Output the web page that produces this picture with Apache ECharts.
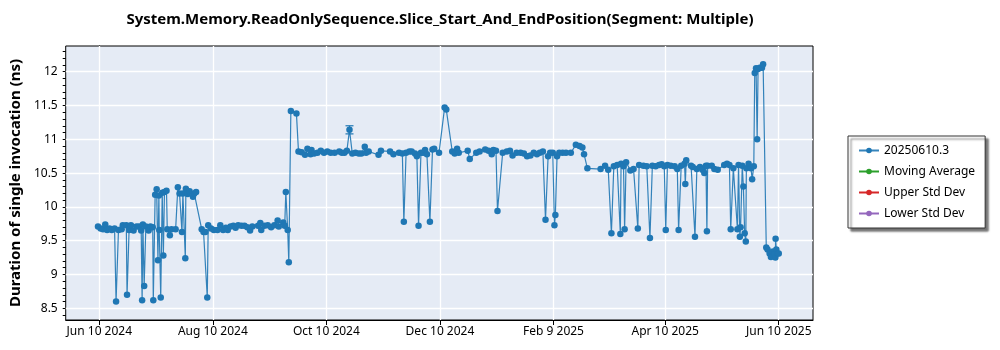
<!DOCTYPE html>
<html>
<head>
<meta charset="utf-8">
<script src="https://cdn.jsdelivr.net/npm/echarts@6/dist/echarts.min.js"></script>
<style>
  html, body { margin: 0; padding: 0; background: #fff; }
  #chart { width: 1000px; height: 350px; }
</style>
</head>
<body>
<div id="chart"></div>
<script>
// x = days since Jun 10 2024, y = duration in ns
const DAYS = [
  -0.7, 0.7, 2, 3.2, 4.2, 5.5, 6.7, 8.2, 9, 10.3, 12, 12.6, 14.5, 14.9, 16, 17, 18.4, 20, 21.4, 22.5,
  23.0, 23.4, 24.1, 25, 26.5, 27.5, 28.7, 29, 30, 30.8, 31.5, 32, 32.2, 33, 33.8, 34.4, 35, 36.1, 36.5, 37.9,
  38.8, 41, 42.2, 43.1, 44.4, 44.9, 46.2, 46.5, 47.5, 48.5, 50.3, 51, 52, 55, 56, 57, 58, 58.5, 60, 61.5,
  63.5, 65, 66.5, 68, 69, 70.5, 72, 73.2, 74.6, 76.4, 78, 79.5, 81, 82.2, 85.3, 86.5, 87, 88.7, 90.5, 92.3,
  94, 95.8, 96.4, 98.8, 99.6, 100.2, 101.2, 101.8, 102.9, 105.9, 107, 108.7, 110.5, 111.8, 113.5, 114, 115.4, 117.2, 119, 120.7,
  122.5, 124.3, 126.4, 128.9, 130.3, 131.7, 133, 134.4, 135.9, 137.6, 139.4, 140.8, 142.6, 143.3, 144.7, 150, 151.3, 156.2, 158, 161,
  162.8, 163.6, 164.8, 166.6, 167.8, 169.6, 170.6, 171.5, 172.8, 174, 175, 176, 177.6, 179, 179.9, 182.5, 185.5, 186.4, 189.6, 190.9,
  192.2, 193.1, 197.9, 199, 202.5, 204.3, 207.3, 209.1, 210.8, 211.7, 213.1, 213.9, 216.7, 218.9, 220.6, 222, 224.2, 226.3, 228.1, 229.8,
  231.6, 233.4, 235.1, 236.6, 238.3, 239.7, 241.1, 242.2, 243.6, 244.5, 245, 245.9, 247.1, 248.9, 250.7, 253.3, 256, 258, 259.5, 260.4,
  262.2, 269.3, 271.7, 273.4, 275.1, 276.4, 278.2, 279.9, 280.3, 281.6, 282.2, 283, 285.3, 287, 289.3, 290, 292.3, 294.1, 295.8, 297.1,
  298.9, 300.7, 302.1, 303.5, 304.3, 305.2, 307, 309.1, 310.5, 311.2, 312.6, 314.4, 314.8, 315.3, 317.9, 318.8, 320, 321, 322.7, 324,
  325, 325.9, 326.4, 326.8, 329, 330.4, 332.2, 335.7, 337.2, 338.5, 339.2, 340.6, 342.8, 343.4, 344.1, 344.5, 345.4, 346, 346.7, 347.3,
  347.6, 348.8, 350.1, 350.7, 351.6, 352.1, 352.8, 353.4, 353.9, 354.8, 356, 356.6, 358.3, 359, 360.1, 360.8, 361.9, 362.6, 363.2, 363.3,
  363.7, 364.4, 365
];
const VALUES = [
  9.71, 9.68, 9.67, 9.74, 9.66, 9.68, 9.66, 9.68, 8.6, 9.66, 9.67, 9.73, 9.73, 8.70, 9.66, 9.73, 9.65, 9.71, 9.71, 9.65,
  8.62, 9.74, 8.83, 9.71, 9.65, 9.71, 9.70, 8.62, 10.18, 10.26, 9.21, 10.17, 9.66, 8.66, 10.21, 9.28, 10.22, 10.24, 9.67, 9.58,
  9.67, 9.67, 10.29, 10.20, 9.63, 10.20, 9.24, 10.27, 10.19, 10.23, 10.15, 10.20, 10.22, 9.67, 9.63, 9.63, 8.66, 9.73, 9.68, 9.66,
  9.66, 9.73, 9.66, 9.69, 9.66, 9.71, 9.72, 9.69, 9.73, 9.72, 9.72, 9.70, 9.65, 9.71, 9.72, 9.76, 9.66, 9.72, 9.73, 9.70,
  9.73, 9.80, 9.71, 9.77, 9.72, 10.22, 9.66, 9.18, 11.42, 11.38, 10.82, 10.81, 10.77, 10.86, 10.78, 10.84, 10.79, 10.80, 10.83, 10.80,
  10.82, 10.80, 10.80, 10.82, 10.80, 10.80, 10.83, 11.14, 10.79, 10.80, 10.79, 10.79, 10.89, 10.80, 10.82, 10.77, 10.83, 10.82, 10.78, 10.80,
  10.79, 9.78, 10.80, 10.82, 10.82, 10.79, 10.75, 9.72, 10.80, 10.80, 10.84, 10.78, 9.78, 10.85, 10.86, 10.80, 11.47, 11.44, 10.82, 10.79,
  10.86, 10.80, 10.83, 10.71, 10.80, 10.82, 10.85, 10.83, 10.78, 10.84, 10.83, 9.94, 10.80, 10.82, 10.83, 10.76, 10.80, 10.80, 10.79, 10.75,
  10.76, 10.80, 10.78, 10.80, 10.82, 9.81, 10.75, 10.80, 10.80, 9.73, 9.88, 10.75, 10.80, 10.80, 10.80, 10.80, 10.92, 10.90, 10.88, 10.78,
  10.57, 10.56, 10.61, 10.55, 9.61, 10.60, 10.62, 9.60, 10.64, 10.60, 9.67, 10.66, 10.54, 10.56, 9.68, 10.62, 10.61, 10.60, 9.54, 10.61,
  10.60, 10.62, 10.63, 10.60, 9.66, 10.62, 10.61, 10.60, 10.56, 9.66, 10.61, 10.64, 10.34, 10.69, 10.61, 10.59, 9.56, 10.56, 10.59, 10.55,
  10.50, 10.61, 9.64, 10.61, 10.61, 10.56, 10.55, 10.62, 10.64, 10.62, 9.67, 10.57, 9.67, 10.62, 9.56, 9.70, 10.61, 10.30, 9.61, 9.49,
  10.57, 10.64, 10.57, 10.41, 10.60, 11.98, 12.05, 11.00, 12.04, 12.06, 12.06, 12.11, 9.40, 9.37, 9.31, 9.26, 9.34, 9.30, 9.25, 9.53,
  9.37, 9.31, 9.31
];
// one visible error bar: [day, low, high]
const ERROR_BARS = [[134.4, 11.08, 11.20]];

const X_TICKS = [0, 61, 122, 183, 244, 304, 365];
const X_TICK_LABELS = ['Jun 10 2024', 'Aug 10 2024', 'Oct 10 2024', 'Dec 10 2024', 'Feb 9 2025', 'Apr 10 2025', 'Jun 10 2025'];
const Y_TICKS = [8.5, 9, 9.5, 10, 10.5, 11, 11.5, 12];
const Y_MINOR = [];
for (let i = 84; i <= 123; i++) Y_MINOR.push(i / 10);

const SERIES_NAMES = ['20250610.3', 'Moving Average', 'Upper Std Dev', 'Lower Std Dev'];
const SERIES_COLORS = ['#1f77b4', '#2ca02c', '#d62728', '#9467bd'];

const FONT = 'Noto Sans';
const X_MIN = -18.05, X_MAX = 383.4, Y_MIN = 8.327, Y_MAX = 12.38;

const points = DAYS.map((d, i) => [d, VALUES[i]]);

const chart = echarts.init(document.getElementById('chart'));
chart.setOption({
  animation: false,
  textStyle: { fontFamily: FONT },
  title: {
    text: 'System.Memory.ReadOnlySequence.Slice_Start_And_EndPosition(Segment: Multiple)',
    left: 435, top: 7, textAlign: 'center',
    textStyle: { fontSize: 15, fontWeight: 'bold', color: '#000', fontFamily: FONT }
  },
  legend: {
    orient: 'vertical', left: 848, top: 136,
    padding: [8, 10, 8, 10], itemGap: 8, itemWidth: 20, itemHeight: 7,
    backgroundColor: '#fff', borderColor: '#333', borderWidth: 1,
    shadowColor: 'rgba(0,0,0,0.55)', shadowBlur: 2, shadowOffsetX: 3, shadowOffsetY: 3,
    textStyle: { fontSize: 12, lineHeight: 13, color: '#000', fontFamily: FONT },
    data: SERIES_NAMES
  },
  grid: {
    left: 57, right: 187, top: 46, bottom: 30,
    show: true, backgroundColor: '#e5ebf5', borderColor: '#000', borderWidth: 1
  },
  xAxis: {
    type: 'value', min: X_MIN, max: X_MAX,
    axisLine: { show: true, onZero: false, lineStyle: { color: '#000' } },
    axisTick: { show: true, length: 5, customValues: X_TICKS, lineStyle: { color: '#000' } },
    axisLabel: {
      customValues: X_TICKS, fontSize: 12, color: '#000', margin: 6,
      formatter: v => X_TICK_LABELS[X_TICKS.indexOf(v)] || ''
    },
    splitLine: { show: false }
  },
  yAxis: [{
    type: 'value', min: Y_MIN, max: Y_MAX,
    name: 'Duration of single invocation (ns)', nameLocation: 'middle', nameGap: 37,
    nameTextStyle: { fontSize: 15, fontWeight: 'bold', color: '#000', fontFamily: FONT },
    axisLine: { show: true, lineStyle: { color: '#000' } },
    axisTick: { show: true, length: 6, customValues: Y_TICKS, lineStyle: { color: '#000' } },
    axisLabel: { customValues: Y_TICKS, fontSize: 12, color: '#000', margin: 8 },
    splitLine: { show: false }
  }, {
    type: 'value', min: Y_MIN, max: Y_MAX, position: 'left',
    axisLine: { show: false },
    axisTick: { show: true, length: 3, customValues: Y_MINOR, lineStyle: { color: '#000' } },
    axisLabel: { show: false },
    splitLine: { show: false }
  }],
  series: [
    {
      name: SERIES_NAMES[0], type: 'line', data: points,
      color: SERIES_COLORS[0], symbol: 'circle', symbolSize: 6.5, showAllSymbol: true,
      lineStyle: { width: 1.2, opacity: 0.9 }, z: 5,
      markLine: {
        silent: true, symbol: 'none', label: { show: false }, animation: false,
        lineStyle: { color: '#fff', width: 1.3, type: 'solid' },
        data: X_TICKS.map(v => ({ xAxis: v })).concat(Y_TICKS.map(v => ({ yAxis: v })))
      }
    },
    { name: SERIES_NAMES[1], type: 'line', data: [], color: SERIES_COLORS[1], symbol: 'circle', symbolSize: 6 },
    { name: SERIES_NAMES[2], type: 'line', data: [], color: SERIES_COLORS[2], symbol: 'circle', symbolSize: 6 },
    { name: SERIES_NAMES[3], type: 'line', data: [], color: SERIES_COLORS[3], symbol: 'circle', symbolSize: 6 },
    {
      type: 'custom', data: ERROR_BARS, z: 6, silent: true,
      encode: { x: 0, y: [1, 2] },
      renderItem: (params, api) => {
        const lo = api.coord([api.value(0), api.value(1)]);
        const hi = api.coord([api.value(0), api.value(2)]);
        const w = 4;
        const style = { stroke: SERIES_COLORS[0], lineWidth: 1.2 };
        return {
          type: 'group', children: [
            { type: 'line', shape: { x1: lo[0], y1: lo[1], x2: hi[0], y2: hi[1] }, style },
            { type: 'line', shape: { x1: lo[0] - w, y1: lo[1], x2: lo[0] + w, y2: lo[1] }, style },
            { type: 'line', shape: { x1: hi[0] - w, y1: hi[1], x2: hi[0] + w, y2: hi[1] }, style }
          ]
        };
      }
    }
  ]
});
</script>
</body>
</html>
